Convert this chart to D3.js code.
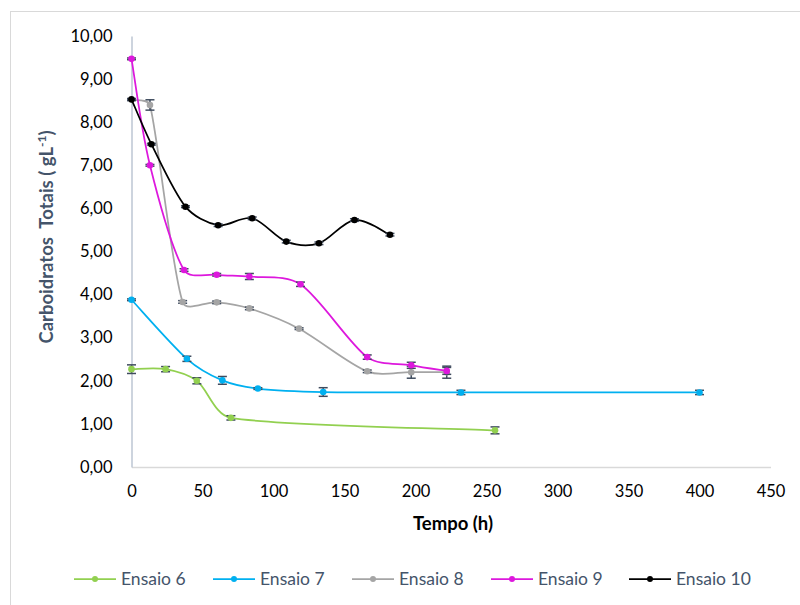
<!DOCTYPE html>
<html>
<head>
<meta charset="utf-8">
<script src="https://cdn.jsdelivr.net/npm/d3@7"></script>
<style>
  html, body { margin: 0; padding: 0; background: #fff; }
  svg { display: block; }
</style>
</head>
<body>
<svg id="chart" width="800" height="605"></svg>
<script>
// Total carbohydrates over time for each run (Ensaio 6–10)
const seriesNames = ["Ensaio 6", "Ensaio 7", "Ensaio 8", "Ensaio 9", "Ensaio 10"];
const seriesColors = ["#92D050", "#00B0F0", "#A5A5A5", "#DD18DD", "#000000"];

const timeE6 = [0, 24, 46, 70, 256];
const valE6  = [2.27, 2.27, 2.00, 1.14, 0.85];
const errE6  = [0.10, 0.06, 0.07, 0.05, 0.08];

const timeE7 = [0, 39, 64, 89, 135, 232, 400];
const valE7  = [3.88, 2.51, 2.01, 1.82, 1.74, 1.73, 1.73];
const errE7  = [0.02, 0.06, 0.09, 0.02, 0.10, 0.05, 0.05];

const timeE8 = [0, 13, 36, 60, 83, 118, 166, 197, 222];
const valE8  = [8.52, 8.40, 3.83, 3.82, 3.68, 3.21, 2.22, 2.20, 2.20];
const errE8  = [0.02, 0.12, 0.03, 0.03, 0.03, 0.02, 0.03, 0.14, 0.14];

const timeE9 = [0, 13, 37, 60, 83, 119, 166, 197, 222];
const valE9  = [9.47, 7.00, 4.57, 4.46, 4.42, 4.24, 2.55, 2.36, 2.23];
const errE9  = [0.02, 0.02, 0.03, 0.03, 0.07, 0.05, 0.05, 0.07, 0.08];

const timeE10 = [0, 14, 38, 61, 85, 109, 132, 157, 182];
const valE10  = [8.53, 7.49, 6.04, 5.61, 5.77, 5.23, 5.19, 5.73, 5.39];
const errE10  = [0.02, 0.02, 0.02, 0.03, 0.03, 0.03, 0.03, 0.03, 0.03];

const xTicks = [0, 50, 100, 150, 200, 250, 300, 350, 400, 450];
const yTicks = [0, 1, 2, 3, 4, 5, 6, 7, 8, 9, 10];

const seriesData = [
  [timeE6, valE6, errE6],
  [timeE7, valE7, errE7],
  [timeE8, valE8, errE8],
  [timeE9, valE9, errE9],
  [timeE10, valE10, errE10]
].map(([t, v, e], i) => ({
  name: seriesNames[i],
  color: seriesColors[i],
  points: t.map((x, j) => ({ x, y: v[j], e: e[j] }))
}));

const svg = d3.select("#chart");
const FONT = "Lato, 'Open Sans', sans-serif";

// outer chart frame
svg.append("rect")
  .attr("x", 10.5).attr("y", 11.5)
  .attr("width", 820).attr("height", 620)
  .attr("fill", "none").attr("stroke", "#D9D9D9").attr("stroke-width", 1);

const x = d3.scaleLinear().domain([0, 450]).range([131.5, 770.5]);
const y = d3.scaleLinear().domain([0, 10]).range([467, 36]);

// x axis
const xAxis = svg.append("g")
  .attr("transform", `translate(0,${y(0)})`)
  .call(d3.axisBottom(x).tickValues(xTicks).tickSize(0).tickPadding(18).tickFormat(d3.format("d")));
xAxis.select(".domain").attr("stroke", "#D9D9D9").attr("stroke-width", 1.5);
xAxis.selectAll("text")
  .attr("font-family", FONT).attr("font-size", 16.5).attr("fill", "#000");

// y axis
const commaFmt = d => d.toFixed(2).replace(".", ",");
const yAxis = svg.append("g")
  .attr("transform", `translate(${x(0)},0)`)
  .call(d3.axisLeft(y).tickValues(yTicks).tickSize(0).tickPadding(19).tickFormat(commaFmt));
yAxis.select(".domain").attr("stroke", "#BCC6D3").attr("stroke-width", 1.5);
yAxis.selectAll("text")
  .attr("font-family", FONT).attr("font-size", 16.5).attr("fill", "#000");

// axis titles
svg.append("text")
  .attr("x", 453).attr("y", 530)
  .attr("text-anchor", "middle")
  .attr("font-family", FONT).attr("font-weight", "bold").attr("font-size", 18.5)
  .attr("fill", "#000")
  .text("Tempo (h)");

const yTitle = svg.append("text")
  .attr("transform", "translate(53,237) rotate(-90)")
  .attr("text-anchor", "middle")
  .attr("font-family", FONT).attr("font-weight", "bold").attr("font-size", 18.5)
  .attr("fill", "#44546A")
  .attr("xml:space", "preserve");
yTitle.append("tspan").text("Carboidratos  Totais ( gL");
yTitle.append("tspan").attr("dy", -7).attr("font-size", 12).text("-1");
yTitle.append("tspan").attr("dy", 7).text(")");

// Smoothed line: cubic Bézier segments with Catmull-Rom style tangents
// whose handle length is capped by a third of the adjacent segment,
// so short steep steps do not loop or overshoot far.
function smoothPath(pts) {
  const P = pts.map(d => [x(d.x), y(d.y)]);
  const n = P.length;
  const p = d3.path();
  if (!n) return "";
  p.moveTo(P[0][0], P[0][1]);
  const dist = (a, b) => Math.hypot(b[0] - a[0], b[1] - a[1]);
  const handle = (i, dir) => {
    const prev = P[Math.max(i - 1, 0)], next = P[Math.min(i + 1, n - 1)];
    const dx = next[0] - prev[0], dy = next[1] - prev[1];
    const len = Math.hypot(dx, dy) || 1;
    const seg = dir > 0 ? dist(P[i], next) : dist(prev, P[i]);
    const m = Math.min(len / 6, seg / 3);
    return [P[i][0] + dir * dx / len * m, P[i][1] + dir * dy / len * m];
  };
  for (let i = 0; i < n - 1; i++) {
    const c1 = handle(i, 1), c2 = handle(i + 1, -1);
    p.bezierCurveTo(c1[0], c1[1], c2[0], c2[1], P[i + 1][0], P[i + 1][1]);
  }
  return p.toString();
}

const ERR_COLOR = "#3F4B5E";
seriesData.forEach(s => {
  const g = svg.append("g");
  g.append("path")
    .attr("d", smoothPath(s.points))
    .attr("fill", "none").attr("stroke", s.color).attr("stroke-width", 1.75);

  const eb = g.selectAll(".eb").data(s.points).join("g");
  eb.append("line")
    .attr("x1", d => x(d.x)).attr("x2", d => x(d.x))
    .attr("y1", d => y(d.y - d.e)).attr("y2", d => y(d.y + d.e))
    .attr("stroke", ERR_COLOR).attr("stroke-width", 1.5);
  eb.append("line")
    .attr("x1", d => x(d.x) - 4.5).attr("x2", d => x(d.x) + 4.5)
    .attr("y1", d => y(d.y + d.e)).attr("y2", d => y(d.y + d.e))
    .attr("stroke", ERR_COLOR).attr("stroke-width", 1.5);
  eb.append("line")
    .attr("x1", d => x(d.x) - 4.5).attr("x2", d => x(d.x) + 4.5)
    .attr("y1", d => y(d.y - d.e)).attr("y2", d => y(d.y - d.e))
    .attr("stroke", ERR_COLOR).attr("stroke-width", 1.5);

  g.selectAll("circle").data(s.points).join("circle")
    .attr("cx", d => x(d.x)).attr("cy", d => y(d.y))
    .attr("r", 3.3).attr("fill", s.color);
});

// legend
const legendX = [74, 213, 352, 491, 629];
const legend = svg.append("g").attr("transform", "translate(0,579)");
seriesData.forEach((s, i) => {
  const lg = legend.append("g").attr("transform", `translate(${legendX[i]},0)`);
  lg.append("line").attr("x1", 0).attr("x2", 42).attr("y1", 0).attr("y2", 0)
    .attr("stroke", s.color).attr("stroke-width", 1.75);
  lg.append("circle").attr("cx", 21).attr("cy", 0).attr("r", 3).attr("fill", s.color);
  lg.append("text").attr("x", 47).attr("y", 0).attr("dy", "0.35em")
    .attr("font-family", FONT).attr("font-size", 17.5).attr("fill", "#44546A")
    .text(s.name);
});
</script>
</body>
</html>
